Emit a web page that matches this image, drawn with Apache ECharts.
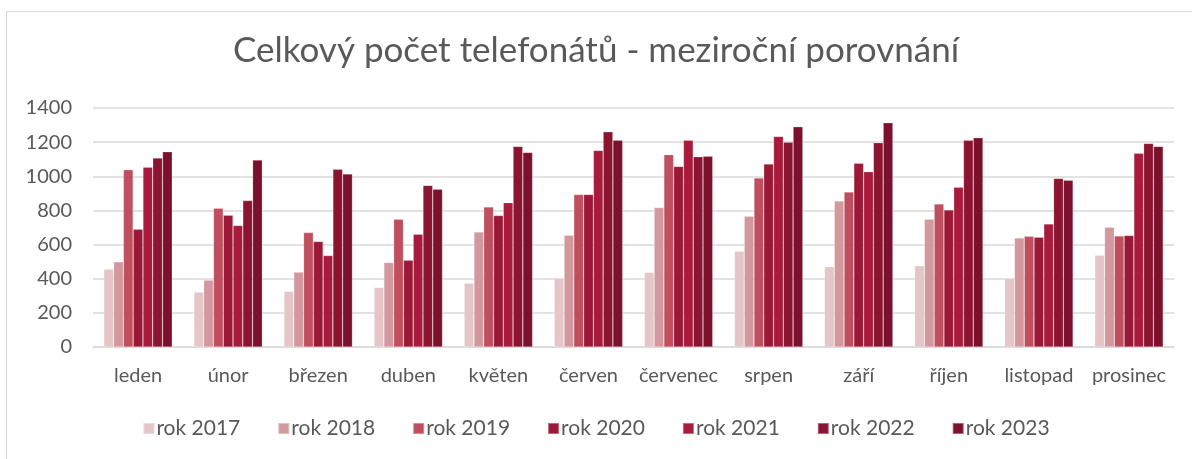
<!DOCTYPE html>
<html>
<head>
<meta charset="utf-8">
<script src="https://cdn.jsdelivr.net/npm/echarts@6/dist/echarts.min.js"></script>
<style>
  html, body { margin: 0; padding: 0; background: #fff; }
  #chart { width: 1192px; height: 459px; }
</style>
</head>
<body>
<div id="chart"></div>
<script>
var months = ['leden', 'únor', 'březen', 'duben', 'květen', 'červen', 'červenec', 'srpen', 'září', 'říjen', 'listopad', 'prosinec'];
var years = ['rok 2017', 'rok 2018', 'rok 2019', 'rok 2020', 'rok 2021', 'rok 2022', 'rok 2023'];
var colors = ['#e4c5c8', '#d3989e', '#bf4f5f', '#9b1836', '#a81b3d', '#8b1431', '#7b112c'];

var rok2017 = [456, 322, 326, 349, 374, 402, 437, 561, 470, 476, 402, 538];
var rok2018 = [499, 392, 439, 495, 674, 655, 817, 766, 856, 749, 639, 702];
var rok2019 = [1039, 813, 671, 749, 821, 893, 1127, 990, 908, 838, 649, 651];
var rok2020 = [690, 772, 618, 509, 770, 893, 1058, 1072, 1076, 803, 643, 653];
var rok2021 = [1053, 712, 536, 661, 846, 1152, 1211, 1234, 1027, 936, 721, 1135];
var rok2022 = [1107, 858, 1041, 947, 1175, 1261, 1115, 1199, 1197, 1211, 988, 1193];
var rok2023 = [1144, 1095, 1014, 924, 1140, 1211, 1117, 1290, 1314, 1226, 977, 1175];
var allData = [rok2017, rok2018, rok2019, rok2020, rok2021, rok2022, rok2023];

var font = 'Lato, "Open Sans", sans-serif';

var series = [];
for (var i = 0; i < years.length; i++) {
    series.push({
        name: years[i],
        type: 'bar',
        barGap: '0%',
        barCategoryGap: '24%',
        data: allData[i],
        itemStyle: {
            color: colors[i],
            borderColor: 'rgba(255,255,255,0.35)',
            borderWidth: 0.6
        }
    });
}

var myChart = echarts.init(document.getElementById('chart'));
var option = {
    animation: false,
    color: colors,
    graphic: [{
        type: 'rect',
        shape: { x: 6.5, y: 11.5, width: 1200, height: 460 },
        style: { fill: 'none', stroke: '#d9d9d9', lineWidth: 1 },
        silent: true,
        z: -1
    }],
    title: {
        text: 'Celkový počet telefonátů - meziroční porovnání',
        left: 'center',
        top: 28,
        textStyle: {
            fontFamily: font,
            fontSize: 35,
            fontWeight: 'normal',
            color: '#595959'
        }
    },
    legend: {
        data: years,
        bottom: 15,
        left: 'center',
        icon: 'rect',
        itemWidth: 11,
        itemHeight: 11,
        itemGap: 37,
        textStyle: {
            fontFamily: font,
            fontSize: 21,
            color: '#595959',
            padding: [0, 0, 0, -3]
        }
    },
    grid: {
        left: 93,
        right: 18,
        top: 108,
        bottom: 112,
        containLabel: false
    },
    xAxis: {
        type: 'category',
        data: months,
        axisLine: { lineStyle: { color: '#d9d9d9', width: 1.5 } },
        axisTick: { show: false },
        axisLabel: {
            interval: 0,
            hideOverlap: false,
            fontFamily: font,
            fontSize: 20,
            color: '#595959',
            margin: 19
        }
    },
    yAxis: {
        type: 'value',
        min: 0,
        max: 1400,
        interval: 200,
        axisLine: { show: false },
        axisTick: { show: false },
        axisLabel: {
            fontFamily: font,
            fontSize: 20,
            color: '#595959',
            margin: 21,
            formatter: function (v) { return String(v); }
        },
        splitLine: { lineStyle: { color: '#d9d9d9', width: 1.5 } }
    },
    series: series
};
myChart.setOption(option);
window.addEventListener('resize', function () {
    myChart.resize();
});
</script>
</body>
</html>
